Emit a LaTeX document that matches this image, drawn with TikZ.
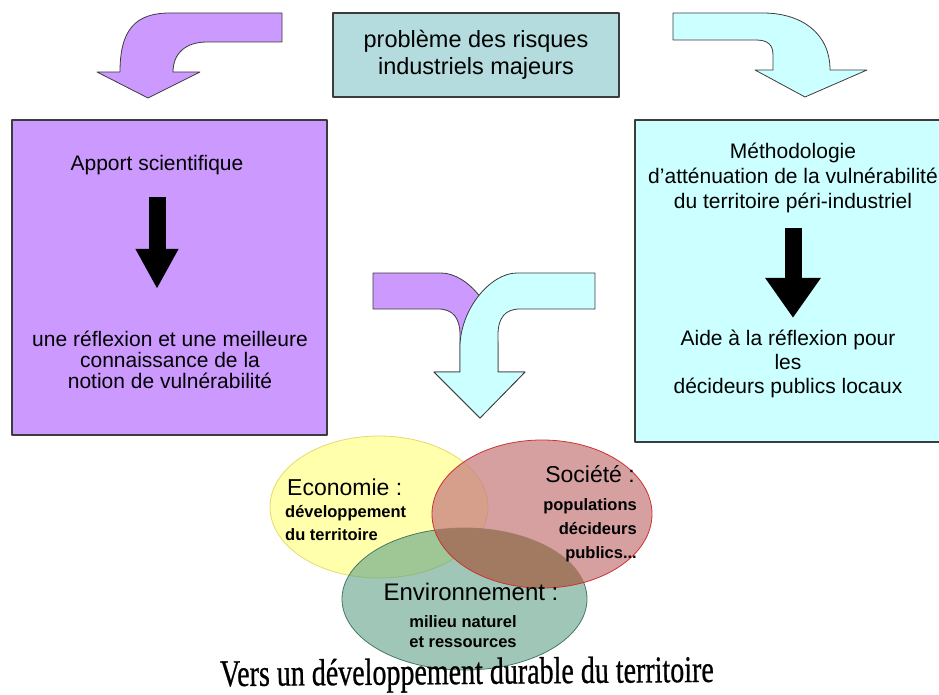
\documentclass[tikz,border=0pt]{standalone}
\usepackage{fontspec}
\setmainfont{Liberation Sans}
\newfontfamily\wordart[FakeBold=0.8]{Liberation Serif}
\usetikzlibrary{arrows.meta}

\definecolor{lilas}{RGB}{204,153,255}
\definecolor{glace}{RGB}{204,255,255}
\definecolor{sarcelle}{RGB}{180,220,222}
\definecolor{jaune}{RGB}{255,255,172}
\definecolor{jaunebord}{RGB}{228,218,110}
\definecolor{rouge}{RGB}{200,128,128}
\definecolor{rougebord}{RGB}{205,50,50}
\definecolor{vert}{RGB}{95,160,135}
\definecolor{brun}{RGB}{162,122,98}
\definecolor{trait}{RGB}{60,60,60}

\begin{document}
\begin{tikzpicture}[x=1pt,y=-1pt,line join=round,
  cadre/.style={draw=trait,line width=1.2pt,inner sep=0pt},
  coude/.style={draw=trait,line width=0.8pt},
  texte/.style={inner sep=0pt,align=center,font=\fontsize{21}{#1}\selectfont},
  titre/.style={inner sep=0pt,font=\fontsize{23}{23}\selectfont},
  detail/.style={inner sep=0pt,font=\fontsize{16.5}{#1}\selectfont\bfseries},
  pleine/.style={line width=17pt,-{Triangle[width=#1,length=40pt]}}]
\useasboundingbox (0,0) rectangle (939,695);

% Boxes
\node[cadre,fill=sarcelle,minimum width=286pt,minimum height=84pt,align=center,
  font=\fontsize{23.5}{27}\selectfont] (probleme) at (476,55) {problème des risques\\industriels majeurs};
\node[cadre,fill=lilas,minimum width=315pt,minimum height=315pt] (apportbox) at (169.5,277.5) {};
\node[cadre,fill=glace,minimum width=312pt,minimum height=322pt] (methodobox) at (791,281) {};

% Bent arrows from the title
\draw[coude,fill=lilas] (282,13) -- (170,13) .. controls (135,13) and (120,30) .. (120,72)
  -- (97,72) -- (148,98) -- (200,72) -- (173,72) .. controls (173,54) and (185,42) .. (207,42) -- (282,42) -- cycle;
\draw[coude,fill=glace] (673,13) -- (763,13) .. controls (800,13) and (830,32) .. (830,70)
  -- (867,70) -- (805,97) -- (755,70) -- (773,70) -- (773,55) .. controls (773,45) and (768,40) .. (756,40) -- (673,40) -- cycle;

% Merging arrows
\draw[coude,fill=lilas] (373,273) -- (441,273) .. controls (468,273) and (498,310) .. (498,347)
  -- (498,372) -- (525,372) -- (480,418) -- (434,372) -- (460,372) -- (460,335) .. controls (460,318) and (453,309) .. (438,309) -- (373,309) -- cycle;
\draw[coude,fill=glace] (595,273) -- (517,273) .. controls (490,273) and (460,310) .. (460,347)
  -- (460,372) -- (434,372) -- (480,418) -- (525,372) -- (498,372) -- (498,335) .. controls (498,318) and (505,309) .. (520,309) -- (595,309) -- cycle;

% Left box contents
\node[texte=21] (apport) at (157,165) {Apport scientifique};
\node[texte=21] (reflexion) at (170,360) {une réflexion et une meilleure\\connaissance de la\\notion de vulnérabilité};
\draw[pleine=40pt,shorten <=22pt,shorten >=42pt] (apport) -- (apport |- reflexion.north);

% Right box contents
\node[texte=25] (methodo) at (793,178) {Méthodologie\\d'atténuation de la vulnérabilité\\du territoire péri-industriel};
\node[texte=24] (aide) at (788,364) {Aide à la réflexion pour\\les\\décideurs publics locaux};
\draw[pleine=53pt,shorten <=15pt,shorten >=12pt] (methodo) -- (methodo |- aide.north);

% Three spheres
\draw[draw=jaunebord,line width=0.8pt,fill=jaune] (379,507) ellipse [x radius=109, y radius=71];
\draw[draw=vert!75!black,line width=0.8pt,fill=vert,fill opacity=0.6] (464.5,599) ellipse [x radius=122.5, y radius=71];
\fill[rouge,fill opacity=0.75] (542,514) ellipse [x radius=110, y radius=74];
\begin{scope}
  \clip (464.5,599) ellipse [x radius=122.5, y radius=71];
  \fill[brun] (542,514) ellipse [x radius=110, y radius=74];
\end{scope}
\draw[draw=rougebord,line width=0.8pt] (542,514) ellipse [x radius=110, y radius=74];

% Sphere labels
\node[titre,anchor=base west] (eco) at (287,495) {Economie :};
\node[detail=23,anchor=north west,align=left] (ecodetail) at (285,505) {développement\\du territoire};
\node[titre,anchor=base east] (soc) at (635,482) {Société :};
\node[detail=24,anchor=north east,align=right] (socdetail) at (637,498) {populations\\décideurs\\publics...};
\node[titre,anchor=base,font=\fontsize{24}{24}\selectfont] (env) at (471,600) {Environnement :};
\node[detail=20,anchor=north,align=center] (envdetail) at (463,615) {milieu naturel\\et ressources};

% Closing line
\node[anchor=base,inner sep=0pt,rotate=0.5,font=\wordart\fontsize{28}{28}\selectfont] (durable) at (467,684)
  {\scalebox{1}[1.35]{Vers un développement durable du territoire}};

\end{tikzpicture}
\end{document}
